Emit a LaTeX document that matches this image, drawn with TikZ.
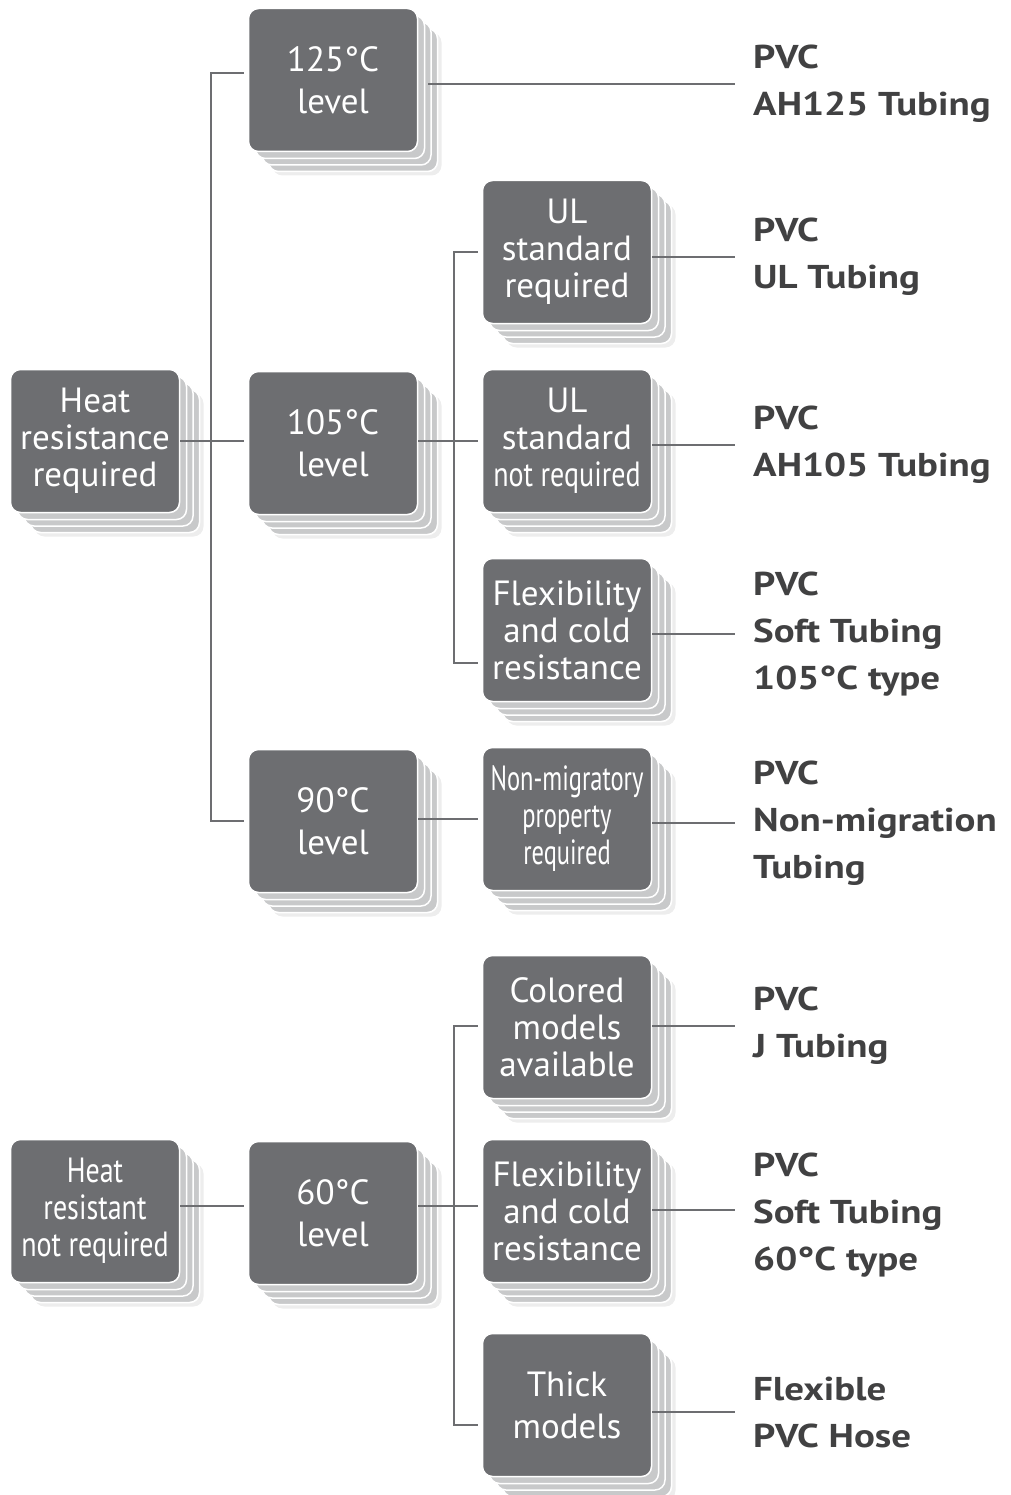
\documentclass[tikz,border=0pt]{standalone}
\usepackage{fontspec}
\setmainfont{PT Sans}
\newfontfamily\narrowfont[FakeStretch=0.8]{PT Sans}
\newfontfamily\slimfont[FakeStretch=0.7]{PT Sans}
\newfontfamily\labelfont[FakeStretch=1.18]{PT Sans}
\usepackage{tikz}
\usetikzlibrary{shadows}
\definecolor{boxgray}{HTML}{6D6E71}
\definecolor{copygray}{HTML}{C8C9CA}
\definecolor{labelgray}{HTML}{414142}

\begin{document}
\begin{tikzpicture}[x=1pt, y=-1pt]
\tikzstyle{stack}=[rectangle, rounded corners=10pt, fill=boxgray, draw=white, line width=1.5pt,
  minimum width=169pt, minimum height=143pt, text=white, align=center,
  font=\fontsize{35}{37}\selectfont,
  general shadow={shadow xshift=24pt, shadow yshift=-24pt, fill=black, opacity=0.07},
  general shadow={shadow xshift=20pt, shadow yshift=-20pt, fill=copygray, draw=white, line width=1.5pt},
  general shadow={shadow xshift=13.5pt, shadow yshift=-13.5pt, fill=copygray, draw=white, line width=1.5pt},
  general shadow={shadow xshift=7pt, shadow yshift=-7pt, fill=copygray, draw=white, line width=1.5pt}]
\tikzstyle{twoline}=[font=\fontsize{35}{42}\selectfont]
\tikzstyle{result}=[anchor=west, inner xsep=18pt, inner ysep=0pt, align=left, text=labelgray,
  font=\labelfont\fontsize{33}{47}\selectfont\bfseries]
\tikzstyle{link}=[draw=boxgray, line width=1.5pt]
\useasboundingbox (0,0) rectangle (1010,1495);

% heat resistance required
 \node[stack] (heat) at (95,441) {Heat\\resistance\\required};
 \node[stack, twoline] (c125) at (333,80) {125°C\\level};
 \node[stack, twoline] (c105) at (333,443) {105°C\\level};
 \node[stack, twoline] (c90) at (333,821) {90°C\\level};
 \node[stack] (ulreq) at (567,252) {UL\\standard\\required};
 \node[stack] (ulnot) at (567,441) {UL\\standard\\{\narrowfont not required}};
 \node[stack] (flex) at (567,630) {Flexibility\\and cold\\resistance};
 \node[stack, font=\slimfont\fontsize{35}{37}\selectfont] (nonmig) at (567,819) {Non-migratory\\property\\required};

% heat resistance not required
 \node[stack, font=\narrowfont\fontsize{35}{37}\selectfont] (noheat) at (95,1211) {Heat\\resistant\\not required};
 \node[stack, twoline] (c60) at (333,1213) {60°C\\level};
 \node[stack] (colored) at (567,1027) {Colored\\models\\available};
 \node[stack] (flexb) at (567,1211) {Flexibility\\and cold\\resistance};
 \node[stack, twoline] (thick) at (567,1405) {Thick\\models};

% products
 \node[result] (ah125) at (735,84) {PVC\\AH125 Tubing};
 \node[result] (ultub) at (735,257) {PVC\\UL Tubing};
 \node[result] (ah105) at (735,445) {PVC\\AH105 Tubing};
 \node[result] (soft105) at (735,634) {PVC\\Soft Tubing\\105°C type};
 \node[result] (nonmigtub) at (735,823) {PVC\\Non-migration\\Tubing};
 \node[result] (jtub) at (735,1026) {PVC\\J Tubing};
 \node[result] (soft60) at (735,1215) {PVC\\Soft Tubing\\60°C type};
 \node[result] (hose) at (735,1412) {Flexible\\PVC Hose};

% connectors
 \draw[link] (heat.east) -- ([xshift=-4pt]heat.east -| c105.west);
 \draw[link] ([xshift=-4pt, yshift=7pt]c125.west) -- ++(-33,0) |- ([xshift=-4pt]c90.west);
 \draw[link] (c105.east |- ulnot.west) -- ([xshift=-4pt]ulnot.west);
 \draw[link] ([xshift=-4pt]ulreq.west) -- ++(-24,0) |- ([xshift=-4pt, yshift=-33pt]flex.west);
 \draw[link] (c90.east |- nonmig.west) -- ([xshift=-4pt]nonmig.west);
 \draw[link] ([yshift=5pt]noheat.east) -- ([xshift=-4pt, yshift=5pt]noheat.east -| c60.west);
 \draw[link] ([yshift=5pt]c60.east |- flexb.west) -- ([xshift=-4pt, yshift=5pt]flexb.west);
 \draw[link] ([xshift=-4pt]colored.west |- jtub.west) -- ++(-24,0) |- ([xshift=-4pt, yshift=-20pt]thick.west);
 \draw[link] ([xshift=10pt]c125.east |- ah125.west) -- (ah125.west);
 \draw[link] (ulreq.east |- ultub.west) -- (ultub.west);
 \draw[link] (ulnot.east |- ah105.west) -- (ah105.west);
 \draw[link] (flex.east |- soft105.west) -- (soft105.west);
 \draw[link] (nonmig.east |- nonmigtub.west) -- (nonmigtub.west);
 \draw[link] (colored.east |- jtub.west) -- (jtub.west);
 \draw[link] ([yshift=5pt]flexb.east |- soft60.west) -- ([yshift=5pt]soft60.west);
 \draw[link] (thick.east |- hose.west) -- (hose.west);
\end{tikzpicture}
\end{document}
